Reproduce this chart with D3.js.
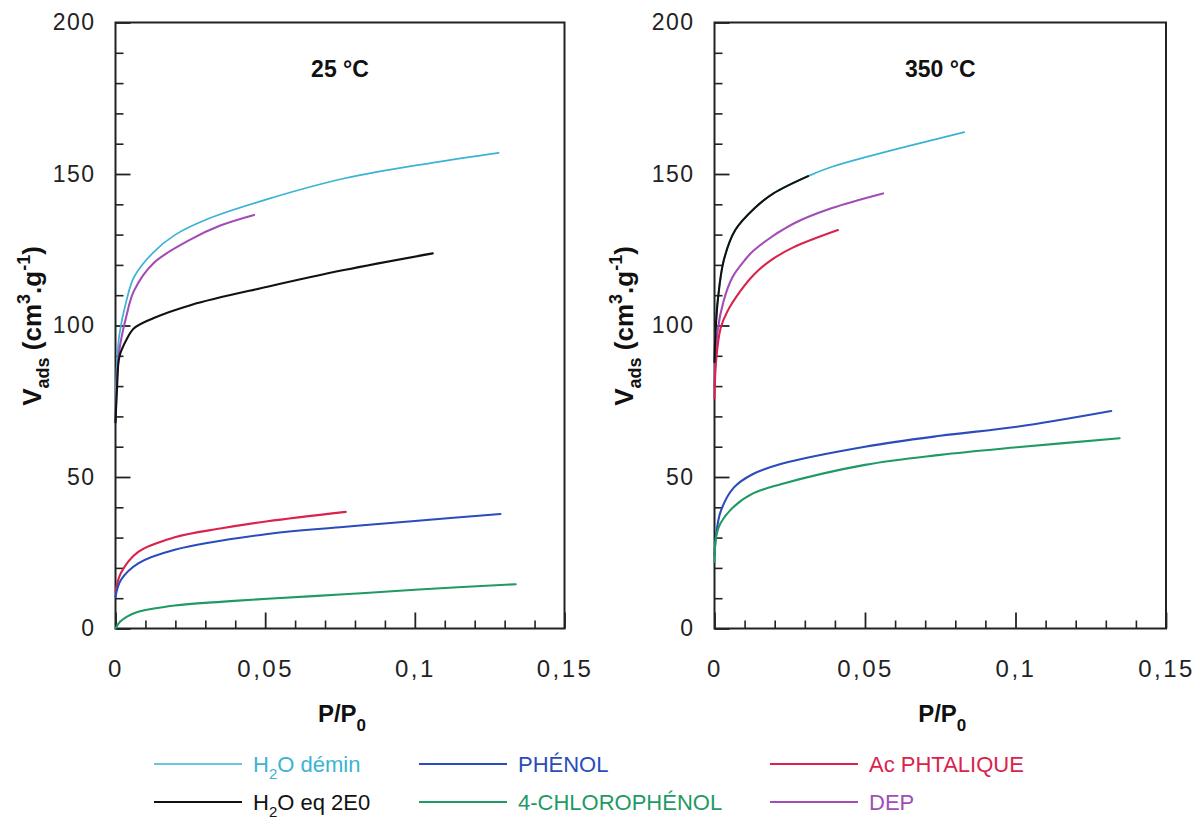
<!DOCTYPE html>
<html><head><meta charset="utf-8">
<script src="https://cdn.jsdelivr.net/npm/d3@7"></script>
<style>
body{margin:0;background:#fff;}
svg{display:block;font-family:"Liberation Sans",Arial,sans-serif;}
</style></head>
<body><svg id="c" width="1194" height="828"></svg>
<script>
// ---------- data ----------
const xMajorTicks = [0, 0.05, 0.1, 0.15];
const xTickLabels = ["0", "0,05", "0,1", "0,15"];
const xMinorTicks = [0.01,0.02,0.03,0.04,0.06,0.07,0.08,0.09,0.11,0.12,0.13,0.14];
const yMajorTicks = [0, 50, 100, 150, 200];
const yTickLabels = ["0", "50", "100", "150", "200"];
const yMinorTicks = [10,20,30,40,60,70,80,90,110,120,130,140,160,170,180,190];
const panelTitles = ["25 °C", "350 °C"];

const seriesNames = ["H2O démin", "PHÉNOL", "Ac PHTALIQUE", "H2O eq 2E0", "4-CHLOROPHÉNOL", "DEP"];
const seriesColors = ["#3bb3d3", "#2a4cbc", "#d9234c", "#111111", "#1f9a64", "#a24db6"];

// 25 °C  [P/P0, Vads]
const t25_h2oDemin = [[0,75],[0.0005,88],[0.0013,97],[0.0036,108],[0.0062,116],[0.0125,124],[0.02,130],[0.0304,135],[0.0508,141.7],[0.0763,148.5],[0.1057,153.7],[0.128,157]];
const t25_phenol = [[0,10.5],[0.0018,16],[0.0076,21.5],[0.0198,26],[0.0508,31.2],[0.075,33.4],[0.1,35.5],[0.1286,37.8]];
const t25_acPhtalique = [[0,12],[0.0018,18.3],[0.0076,25.3],[0.0198,30.1],[0.035,33],[0.0508,35.4],[0.0769,38.5]];
const t25_h2oEq = [[0,68],[0.0005,79],[0.0013,89.7],[0.0036,95.2],[0.0062,99.1],[0.0126,102.4],[0.0253,106.8],[0.0508,112.8],[0.0763,118.3],[0.106,123.8]];
const t25_chloro = [[0,0],[0.0015,2.2],[0.004,4],[0.0076,5.5],[0.0198,7.6],[0.035,8.8],[0.0508,9.8],[0.075,11.2],[0.1,12.8],[0.1337,14.6]];
const t25_dep = [[0,68],[0.0005,82],[0.0013,92],[0.0036,103],[0.0062,111.5],[0.0126,120.5],[0.0253,128.5],[0.035,133],[0.0463,136.5]];

// 350 °C
const t350_h2oDemin = [[0,88],[0.0003,97],[0.0011,108.4],[0.0031,121.6],[0.0069,131.5],[0.0133,138.7],[0.0196,143.6],[0.0311,149.3],[0.0388,152.3],[0.0515,155.9],[0.0643,159.2],[0.083,163.8]];
const t350_phenol = [[0,24],[0.0005,30.5],[0.002,38.5],[0.0064,46.5],[0.0128,51],[0.022,54.3],[0.05,60],[0.075,63.6],[0.1005,66.6],[0.1318,71.8]];
const t350_acPhtalique = [[0,76],[0.0005,88],[0.002,99],[0.0042,104.5],[0.0087,111.5],[0.0133,117],[0.0187,121.5],[0.026,125.7],[0.041,131.5]];
const t350_h2oEq = [[0,88],[0.0003,97],[0.0011,108.4],[0.0031,121.6],[0.0069,131.5],[0.0133,138.7],[0.0196,143.6],[0.0311,149.3]];
const t350_chloro = [[0,22],[0.0005,30],[0.002,34.7],[0.0064,40.2],[0.0128,44.6],[0.022,47.6],[0.05,54],[0.075,57.3],[0.1005,59.8],[0.1346,62.8]];
const t350_dep = [[0,80],[0.001,98],[0.003,108],[0.006,116],[0.01,121.5],[0.0133,125],[0.026,133.5],[0.0388,138.7],[0.056,143.6]];

// ---------- build ----------
const panels = [
  {left:115.5, right:564.5, title:panelTitles[0], ylabX:41,
   series:[[0,t25_h2oDemin],[5,t25_dep],[3,t25_h2oEq],[2,t25_acPhtalique],[1,t25_phenol],[4,t25_chloro]]},
  {left:714.5, right:1166, title:panelTitles[1], ylabX:633,
   series:[[0,t350_h2oDemin],[5,t350_dep],[2,t350_acPhtalique],[3,t350_h2oEq],[1,t350_phenol],[4,t350_chloro]]}
];
const plotTop = 22.5, plotBottom = 628.5;
const svg = d3.select("#c");

panels.forEach(p => {
  const x = d3.scaleLinear().domain([0, 0.15]).range([p.left, p.right]);
  const y = d3.scaleLinear().domain([0, 200]).range([plotBottom, plotTop]);
  const g = svg.append("g");

  g.append("g").attr("transform", `translate(0,${plotBottom})`)
    .call(d3.axisBottom(x).tickValues(xMinorTicks).tickSize(-8).tickFormat(""))
    .call(a => { a.select(".domain").remove(); a.selectAll("line").attr("stroke","#222").attr("stroke-width",1.6); });
  g.append("g").attr("transform", `translate(${p.left},0)`)
    .call(d3.axisLeft(y).tickValues(yMinorTicks).tickSize(-8).tickFormat(""))
    .call(a => { a.select(".domain").remove(); a.selectAll("line").attr("stroke","#222").attr("stroke-width",1.6); });

  g.append("g").attr("transform", `translate(0,${plotBottom})`)
    .call(d3.axisBottom(x).tickValues(xMajorTicks).tickSize(-16).tickPadding(31)
      .tickFormat((d,i) => xTickLabels[i]))
    .call(a => {
      a.select(".domain").remove();
      a.selectAll("line").attr("stroke","#222").attr("stroke-width",1.8);
      a.selectAll("text").attr("fill","#222").style("font-size","24px").style("letter-spacing","2.5px")
        .style("font-family","'Liberation Sans',Arial,sans-serif");
    });
  g.append("g").attr("transform", `translate(${p.left},0)`)
    .call(d3.axisLeft(y).tickValues(yMajorTicks).tickSize(-15).tickPadding(20)
      .tickFormat((d,i) => yTickLabels[i]))
    .call(a => {
      a.select(".domain").remove();
      a.selectAll("line").attr("stroke","#222").attr("stroke-width",1.8);
      a.selectAll("text").attr("fill","#222").style("font-size","23px").style("letter-spacing","1.5px")
        .style("font-family","'Liberation Sans',Arial,sans-serif");
    });

  g.append("rect").attr("x", p.left).attr("y", plotTop)
    .attr("width", p.right - p.left).attr("height", plotBottom - plotTop)
    .attr("fill","none").attr("stroke","#222").attr("stroke-width",2);

  const line = d3.line().x(d => x(d[0])).y(d => y(d[1])).curve(d3.curveCatmullRom.alpha(0.5));
  p.series.forEach(([ci, data]) => {
    g.append("path").datum(data).attr("d", line)
      .attr("fill","none").attr("stroke", seriesColors[ci])
      .attr("stroke-width", ci === 0 ? 1.7 : 2.1).attr("stroke-linecap","round");
  });

  const cx = (p.left + p.right) / 2;
  g.append("text").attr("x", cx).attr("y", 77).attr("text-anchor","middle")
    .style("font-size","23px").style("font-weight","bold").attr("fill","#111").text(p.title);

  const xl = g.append("text").attr("x", cx + 2).attr("y", 722).attr("text-anchor","middle")
    .style("font-size","24px").style("font-weight","bold").attr("fill","#111");
  xl.append("tspan").text("P/P");
  xl.append("tspan").attr("dy", 9).style("font-size","17px").text("0");

  const yl = g.append("text").attr("transform", `translate(${p.ylabX},${326}) rotate(-90)`)
    .attr("text-anchor","middle").style("font-size","26px").style("font-weight","bold").attr("fill","#111");
  yl.append("tspan").text("V");
  yl.append("tspan").attr("dy", 8).style("font-size","18px").text("ads");
  yl.append("tspan").attr("dy", -8).text(" (cm");
  yl.append("tspan").attr("dy", -11).style("font-size","18px").text("3");
  yl.append("tspan").attr("dy", 11).text(".g");
  yl.append("tspan").attr("dy", -11).style("font-size","18px").text("-1");
  yl.append("tspan").attr("dy", 11).text(")");
});

// ---------- legend ----------
const legendPos = [
  {ci:0, lx:154, ty:764}, {ci:1, lx:419, ty:764}, {ci:2, lx:770, ty:764},
  {ci:3, lx:154, ty:802}, {ci:4, lx:419, ty:802}, {ci:5, lx:770, ty:802}
];
const lg = svg.append("g");
legendPos.forEach(d => {
  lg.append("line").attr("x1", d.lx).attr("x2", d.lx + 88).attr("y1", d.ty).attr("y2", d.ty)
    .attr("stroke", seriesColors[d.ci]).attr("stroke-width", d.ci === 0 ? 1.6 : 2);
  const t = lg.append("text").attr("x", d.lx + 99).attr("y", d.ty + 8)
    .style("font-size","22px").attr("fill", seriesColors[d.ci]);
  const name = seriesNames[d.ci];
  if (name.startsWith("H2O")) {
    t.append("tspan").text("H");
    t.append("tspan").attr("dy", 7).style("font-size","15px").text("2");
    t.append("tspan").attr("dy", -7).text(name.slice(2));
  } else {
    t.text(name);
  }
});
</script></body></html>
